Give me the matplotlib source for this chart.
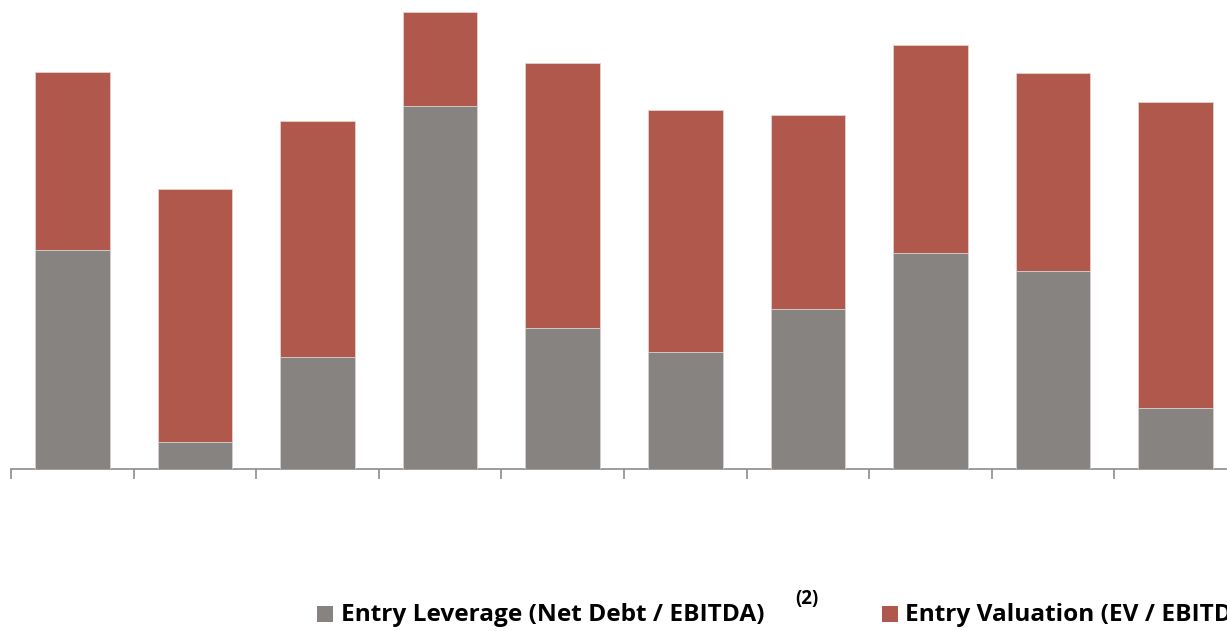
import matplotlib
matplotlib.use("Agg")
import matplotlib.pyplot as plt
from matplotlib.patches import Rectangle
import numpy as np

# Data (multiples)
categories = ["1", "2", "3", "4", "5", "6", "7", "8", "9", "10"]
entry_leverage = [5.48, 0.68, 2.80, 9.08, 3.52, 2.92, 4.00, 5.40, 4.95, 1.52]
entry_valuation = [9.92, 7.00, 8.70, 11.42, 10.15, 8.98, 8.85, 10.60, 9.90, 9.18]
legend_labels = ["Entry Leverage (Net Debt / EBITDA)", "Entry Valuation (EV / EBITDA)"]
footnote_mark = "(2)"

GRAY = "#878381"
RED = "#B0584B"
W, H = 1227, 631

fig = plt.figure(figsize=(W / 100, H / 100), dpi=100)
# axes: baseline at y=469px, category edges start at x=11px, 122.6px per category
left = 11 / W
width = 10 * 122.6 / W
bottom = (H - 469) / H
height = 480 / H
ax = fig.add_axes([left, bottom, width, height])

x = np.arange(len(categories))
bw = 0.61
ax.bar(x, entry_valuation, width=bw, color=RED, edgecolor="#e8d0cc", linewidth=0.6, zorder=2)
ax.bar(x, entry_leverage, width=bw, color=GRAY, edgecolor="#d8d6d5", linewidth=0.6, zorder=3)

ax.set_xlim(-0.5, len(categories) - 0.5)
ax.set_ylim(0, 12)
for s in ["top", "right", "left"]:
    ax.spines[s].set_visible(False)
ax.spines["bottom"].set_color("#8c8c8c")
ax.spines["bottom"].set_linewidth(1.2)
ax.set_yticks([])
ax.set_xticks(np.arange(-0.5, len(categories), 1.0))
ax.set_xticklabels([])
ax.tick_params(axis="x", length=7, width=1.2, color="#8c8c8c", direction="out")

# Legend (manual, positioned as in the reference, which is cropped at the right edge)
font = dict(family="Open Sans", weight="bold", color="#000000")
def px(xp, yp):
    return xp / W, (H - yp) / H

sq = 16
for (x0, col) in [(317, GRAY), (882, RED)]:
    fx, fy = px(x0, 622)
    fig.patches.append(Rectangle((fx, fy), sq / W, sq / H, transform=fig.transFigure,
                                 facecolor=col, edgecolor="none"))
fx, fy = px(341, 621)
fig.text(fx, fy, legend_labels[0], fontsize=17.6, va="baseline", ha="left", **font)
fx, fy = px(795, 604)
fig.text(fx, fy, footnote_mark, fontsize=13.5, va="baseline", ha="left", **font)
fx, fy = px(905, 621)
fig.text(fx, fy, legend_labels[1], fontsize=17.6, va="baseline", ha="left", **font)

fig.savefig("out.png", dpi=100)
